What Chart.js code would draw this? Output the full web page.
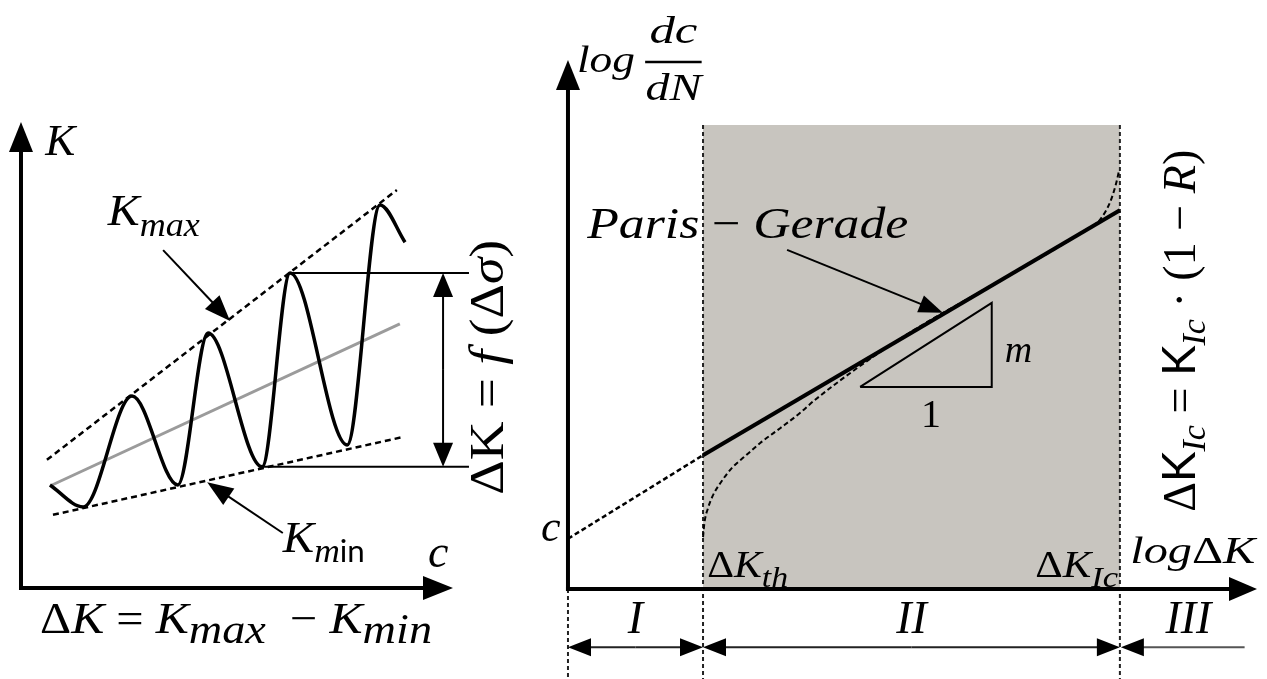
<!DOCTYPE html>
<html lang="de">

<head>
    <meta charset="UTF-8">
    <script src="https://cdn.jsdelivr.net/npm/chart.js"></script>
    <style>
        body { margin: 0; background: #fff; }
        .wrap { position: relative; width: 1267px; height: 679px; }
        canvas { position: absolute; top: 0; }
        #left { left: 0; }
        #right { left: 540px; }
    </style>
</head>

<body>
    <div class="wrap">
        <canvas id="left" width="540" height="679"></canvas>
        <canvas id="right" width="727" height="679"></canvas>
    </div>

    <script>
        // ---- left: K over crack length c ----
        const waveC = [0.67, 1.44, 2.57, 3.63, 4.33, 5.58, 6.23, 7.55, 8.31, 8.89];
        const waveK = [2.21, 1.74, 4.12, 2.21, 5.47, 2.60, 6.76, 3.07, 8.22, 7.42];
        const upperC = [0.60, 8.70];
        const upperK = [2.75, 8.54];
        const lowerC = [0.74, 8.84];
        const lowerK = [1.57, 3.24];
        const meanC = [0.72, 8.77];
        const meanK = [2.21, 5.67];
        const bracketEnd = 10.37;

        // ---- right: log dc/dN over log dK ----
        const zoneEdges = [0, 1.96, 8.01];
        const zoneNames = ['I', 'II', 'III'];
        const zoneTop = 8.77;
        const parisX = [1.96, 8.01];
        const parisY = [2.53, 7.16];
        const parisExtX = [0, 1.96];
        const parisExtY = [0.95, 2.53];
        const curveX = [1.96, 1.98, 2.03, 2.10, 2.21, 2.38, 2.57, 2.79, 3.08, 3.37, 3.58, 4.82, 6.27, 7.53, 7.72, 7.87, 7.95, 8.00];
        const curveY = [0.98, 1.25, 1.52, 1.76, 2.00, 2.29, 2.51, 2.76, 3.04, 3.33, 3.57, 4.73, 5.83, 6.80, 6.98, 7.32, 7.64, 7.92];
        const triX = [4.24, 6.15, 6.15, 4.24];
        const triY = [3.82, 3.82, 5.41, 3.82];
        const floorY = -1.70;

        const pts = (xs, ys) => xs.map((x, i) => ({ x: x, y: ys[i] }));

        const SERIF = "'Liberation Serif', serif";
        const SANS = "Lato, 'Open Sans', sans-serif";
        const it = (size) => 'italic ' + size + 'px ' + SERIF;
        const up = (size) => size + 'px ' + SERIF;

        function arrowHead(ctx, x1, y1, x2, y2, len, half) {
            const a = Math.atan2(y2 - y1, x2 - x1);
            const bx = x2 - len * Math.cos(a), by = y2 - len * Math.sin(a);
            ctx.beginPath();
            ctx.moveTo(x2, y2);
            ctx.lineTo(bx + half * Math.sin(a), by - half * Math.cos(a));
            ctx.lineTo(bx - half * Math.sin(a), by + half * Math.cos(a));
            ctx.closePath();
            ctx.fill();
        }

        // line with a filled head at (x2, y2)
        function arrow(ctx, x1, y1, x2, y2, lw, len, half) {
            const a = Math.atan2(y2 - y1, x2 - x1);
            ctx.lineWidth = lw;
            ctx.beginPath();
            ctx.moveTo(x1, y1);
            ctx.lineTo(x2 - (len - 2) * Math.cos(a), y2 - (len - 2) * Math.sin(a));
            ctx.stroke();
            arrowHead(ctx, x1, y1, x2, y2, len, half);
        }

        // parts: [text, font, dy]; stretched to width if given
        function rich(ctx, x, y, parts, opt) {
            opt = opt || {};
            ctx.save();
            ctx.translate(x, y);
            if (opt.rotate) ctx.rotate(opt.rotate);
            const widths = parts.map(p => { ctx.font = p[1]; return ctx.measureText(p[0]).width; });
            const total = widths.reduce((a, b) => a + b, 0);
            const sx = opt.width ? opt.width / total : 1;
            ctx.scale(sx, 1);
            let cx = opt.align === 'center' ? -total / 2 : 0;
            ctx.textBaseline = 'alphabetic';
            ctx.fillStyle = '#000';
            parts.forEach((p, i) => {
                ctx.font = p[1];
                ctx.fillText(p[0], cx, p[2] || 0);
                cx += widths[i];
            });
            ctx.restore();
        }

        function toPx(chart) {
            const sx = chart.scales.x, sy = chart.scales.y;
            return (x, y) => [sx.getPixelForValue(x), sy.getPixelForValue(y)];
        }

        const leftDecor = {
            id: 'leftDecor',
            afterDatasetsDraw(chart) {
                const ctx = chart.ctx;
                const P = toPx(chart);
                ctx.save();
                ctx.strokeStyle = '#000';
                ctx.fillStyle = '#000';
                ctx.lineCap = 'butt';

                // axes
                const o = P(0, 0);
                const yTip = P(0, 10), xTip = P(10, 0);
                arrow(ctx, o[0], o[1] + 2, yTip[0], yTip[1], 4, 30, 12);
                arrow(ctx, o[0] - 2, o[1], xTip[0], xTip[1], 4, 30, 12);

                // delta K bracket arrow
                const t = P(9.77, waveK[6]), b = P(9.77, waveK[5]);
                const mid = (t[1] + b[1]) / 2;
                arrow(ctx, t[0], mid, t[0], t[1], 2, 24, 10);
                arrow(ctx, b[0], mid, b[0], b[1], 2, 24, 10);

                // pointers to the envelopes
                let s = P(3.29, 7.25), e = P(4.84, 5.73);
                arrow(ctx, s[0], s[1], e[0], e[1], 2, 26, 10);
                s = P(6.06, 1.18); e = P(4.31, 2.27);
                arrow(ctx, s[0], s[1], e[0], e[1], 2, 26, 10);

                // labels
                let p = P(0.56, 9.29);
                rich(ctx, p[0], p[1], [['K', it(45)]]);
                p = P(2.01, 7.79);
                rich(ctx, p[0], p[1], [['K', it(45)], ['max', it(34), 11]], { width: 92 });
                p = P(6.06, 0.77);
                rich(ctx, p[0], p[1], [['K', it(45)], ['m', it(34), 10], ['in', '30px ' + SANS, 10]], { width: 82 });
                p = P(9.42, 0.45);
                rich(ctx, p[0], p[1], [['c', it(46)]]);
                p = P(0.44, -0.97);
                rich(ctx, p[0], p[1], [
                    ['Δ', up(44)], ['K', it(45)], [' = ', up(44)],
                    ['K', it(45)], ['max', it(42), 10], ['  − ', up(44)],
                    ['K', it(45)], ['min', it(42), 10]
                ], { width: 392 });
                p = P(11.16, 2.0);
                rich(ctx, p[0], p[1], [
                    ['Δ', up(48)], ['K', up(48)], [' = ', up(48)], ['f', it(48)],
                    [' (', up(48)], ['Δ', up(48)], ['σ', it(48)], [')', up(48)]
                ], { width: 255, rotate: -Math.PI / 2 });
                ctx.restore();
            }
        };

        const rightDecor = {
            id: 'rightDecor',
            afterDatasetsDraw(chart) {
                const ctx = chart.ctx;
                const P = toPx(chart);
                ctx.save();
                ctx.strokeStyle = '#000';
                ctx.fillStyle = '#000';

                // axes
                const o = P(0, 0);
                const yTip = P(0, 10), xTip = P(10, 0);
                arrow(ctx, o[0], o[1] + 2, yTip[0], yTip[1], 4, 30, 12);
                arrow(ctx, o[0] - 2, o[1], xTip[0], xTip[1], 4, 28, 12);

                // zone arrows below the axis
                const rowY = -1.10;
                ctx.strokeStyle = '#222';
                ctx.fillStyle = '#000';
                for (let i = 0; i < 2; i++) {
                    const a = P(zoneEdges[i], rowY), b = P(zoneEdges[i + 1], rowY);
                    const m = (a[0] + b[0]) / 2;
                    arrow(ctx, m, a[1], a[0], a[1], 2, 23, 9);
                    arrow(ctx, m, b[1], b[0], b[1], 2, 23, 9);
                }
                const z = P(zoneEdges[2], rowY), zEnd = P(9.82, rowY);
                ctx.strokeStyle = '#555';
                arrow(ctx, zEnd[0], z[1], z[0] + 1, z[1], 2, 23, 9);

                // Paris pointer
                ctx.strokeStyle = '#000';
                let s = P(3.18, 6.41), e = P(5.44, 5.22);
                arrow(ctx, s[0], s[1], e[0], e[1], 2, 24, 9);

                // fraction bar
                const f1 = P(1.12, 9.96), f2 = P(1.94, 9.96);
                ctx.lineWidth = 2.5;
                ctx.beginPath();
                ctx.moveTo(f1[0], f1[1]);
                ctx.lineTo(f2[0], f2[1]);
                ctx.stroke();

                let p = P(0.13, 9.77);
                rich(ctx, p[0], p[1], [['log', it(38)]], { width: 58 });
                p = P(1.53, 10.32);
                rich(ctx, p[0], p[1], [['dc', it(38)]], { align: 'center', width: 48 });
                p = P(1.53, 9.24);
                rich(ctx, p[0], p[1], [['dN', it(38)]], { align: 'center', width: 56 });
                p = P(0.28, 6.64);
                rich(ctx, p[0], p[1], [['Paris', it(45)], [' − ', up(44)], ['Gerade', it(45)]], { width: 321 });
                p = P(6.34, 4.29);
                rich(ctx, p[0], p[1], [['m', it(38)]]);
                p = P(5.27, 3.06);
                rich(ctx, p[0], p[1], [['1', up(40)]], { align: 'center' });
                p = P(-0.39, 0.91);
                rich(ctx, p[0], p[1], [['c', it(44)]]);
                p = P(2.02, 0.23);
                rich(ctx, p[0], p[1], [['Δ', up(37)], ['K', it(37)], ['th', it(30), 10]], { width: 81 });
                p = P(6.78, 0.23);
                rich(ctx, p[0], p[1], [['Δ', up(37)], ['K', it(37)], ['Ic', it(30), 10]], { width: 83 });
                p = P(8.16, 0.49);
                rich(ctx, p[0], p[1], [['log', it(38)], ['Δ', up(38)], ['K', it(38)]], { width: 125 });
                for (let i = 0; i < 3; i++) {
                    const right = i < 2 ? zoneEdges[i + 1] : 10;
                    const c = P((zoneEdges[i] + right) / 2, -0.83);
                    rich(ctx, c[0], c[1], [[zoneNames[i], it(46)]], { align: 'center' });
                }
                p = P(9.10, 1.46);
                rich(ctx, p[0], p[1], [
                    ['Δ', up(46)], ['K', '46px ' + SANS], ['Ic', it(34), 10], [' = ', up(46)],
                    ['K', '46px ' + SANS], ['Ic', it(34), 10], [' · (1 − ', up(46)], ['R', it(46)], [')', up(46)]
                ], { width: 362, rotate: -Math.PI / 2 });
                ctx.restore();
            }
        };

        const baseOpts = (xr, yr) => ({
            responsive: false,
            animation: false,
            events: [],
            layout: { padding: 0 },
            plugins: { legend: { display: false }, tooltip: { enabled: false } },
            scales: {
                x: { type: 'linear', display: false, min: xr[0], max: xr[1] },
                y: { type: 'linear', display: false, min: yr[0], max: yr[1] }
            }
        });

        const lineDs = (data, extra) => Object.assign({
            data: data,
            showLine: true,
            pointRadius: 0,
            borderColor: '#000',
            borderWidth: 2,
            fill: false
        }, extra);

        new Chart(document.getElementById('left'), {
            type: 'scatter',
            data: {
                datasets: [
                    lineDs(pts(waveC, waveK), { borderWidth: 3.5, cubicInterpolationMode: 'monotone' }),
                    lineDs(pts(upperC, upperK), { borderWidth: 2.5, borderDash: [6, 4] }),
                    lineDs(pts(lowerC, lowerK), { borderWidth: 2.5, borderDash: [6, 4] }),
                    lineDs([{ x: waveC[6], y: waveK[6] }, { x: bracketEnd, y: waveK[6] }], { borderWidth: 2 }),
                    lineDs([{ x: waveC[5], y: waveK[5] }, { x: bracketEnd, y: waveK[5] }], { borderWidth: 2 }),
                    lineDs(pts(meanC, meanK), { borderWidth: 3, borderColor: '#9b9b9b', order: 1 })
                ]
            },
            options: baseOpts([-0.486, 12.014], [-1.953, 12.618]),
            plugins: [leftDecor]
        });

        new Chart(document.getElementById('right'), {
            type: 'scatter',
            data: {
                datasets: [
                    lineDs(pts(parisX, parisY), { borderWidth: 4 }),
                    lineDs(pts(parisExtX, parisExtY), { borderWidth: 2.5, borderDash: [5, 3] }),
                    lineDs(pts(curveX, curveY), { borderWidth: 2, borderDash: [5, 3], cubicInterpolationMode: 'monotone' }),
                    lineDs(pts(triX, triY), { borderWidth: 2 }),
                    lineDs([{ x: zoneEdges[0], y: 0 }, { x: zoneEdges[0], y: floorY }], { borderDash: [4, 3], borderColor: '#222' }),
                    lineDs([{ x: zoneEdges[1], y: zoneTop }, { x: zoneEdges[1], y: floorY }], { borderDash: [4, 3], borderColor: '#222' }),
                    lineDs([{ x: zoneEdges[2], y: zoneTop }, { x: zoneEdges[2], y: floorY }], { borderDash: [4, 3], borderColor: '#222' }),
                    lineDs([{ x: zoneEdges[1], y: zoneTop }, { x: zoneEdges[2], y: zoneTop }], {
                        borderWidth: 0, backgroundColor: '#c8c5bf', fill: 'origin', order: 10
                    })
                ]
            },
            options: baseOpts([-0.406, 10.145], [-1.701, 11.134]),
            plugins: [rightDecor]
        });
    </script>

</body>

</html>
